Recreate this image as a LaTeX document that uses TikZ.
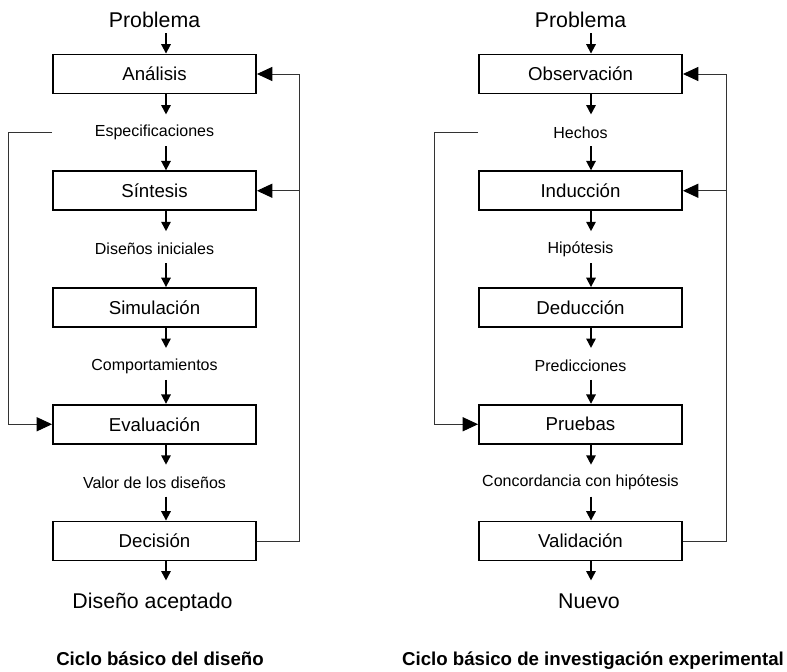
\documentclass[tikz,border=0pt]{standalone}
\usepackage{fontspec}
\setmainfont{Liberation Sans}
\usetikzlibrary{arrows.meta,calc}

\begin{document}
\begin{tikzpicture}[x=0.75pt,y=-0.75pt,
  stage/.style={draw, line width=1.4pt, minimum width=152.25pt, minimum height=29.25pt,
    inner sep=0pt, font=\fontsize{14}{16}\selectfont},
  lbl/.style={inner sep=0pt, font=\fontsize{12}{14}\selectfont},
  big/.style={inner sep=0pt, font=\fontsize{16}{19}\selectfont},
  caption/.style={inner sep=0pt, font=\fontsize{14}{17}\selectfont\bfseries},
  arr/.style={line width=1.3pt, -{Triangle[length=7pt,width=7pt]}},
  fb/.style={line width=0.75pt, black!80},
  fbarr/.style={fb, -{Triangle[length=11.5pt,width=10.5pt,color=black]}}]

\useasboundingbox (0,0) rectangle (787,671);

% ---------- design cycle ----------
\coordinate (axL) at (166,0);
\coordinate (fbLL) at (8,0);
\coordinate (fbLR) at (299,0);

\node[big, anchor=base] (pL) at (154.5,27) {Problema};
\node[stage] (a1) at (154.5,74) {Análisis};
\node[lbl] (s1) at (154.5,132.4) {Especificaciones};
\node[stage] (a2) at (154.5,190.75) {Síntesis};
\node[lbl] (s2) at (154.5,249.1) {Diseños iniciales};
\node[stage] (a3) at (154.5,307.5) {Simulación};
\node[lbl] (s3) at (154.5,365.9) {Comportamientos};
\node[stage] (a4) at (154.5,424.25) {Evaluación};
\node[lbl] (s4) at (154.5,482.6) {Valor de los diseños};
\node[stage] (a5) at (154.5,541) {Decisión};
\begin{scope}
  \clip (0,0) rectangle (787,610);
  \node[big, anchor=base] (oL) at (152.5,608.5) {Diseño aceptado};
\end{scope}
\node[caption, anchor=base] (tL) at (160,665) {Ciclo básico del diseño};

\draw[arr] ($(pL.base -| axL)+(0,6)$) -- (a1.north -| axL);
\foreach \b/\l/\n in {a1/s1/a2, a2/s2/a3, a3/s3/a4, a4/s4/a5} {
  \draw[arr] (\b.south -| axL) -- ++(0,20);
  \draw[arr] ($(\n.north -| axL)+(0,-24)$) -- (\n.north -| axL);
}
\draw[arr] (a5.south -| axL) -- ++(0,19);

\draw[fbarr] (s1 -| a1.west) -- (s1 -| fbLL) |- (a4.west);
\draw[fbarr] (a5.east) -- (a5.east -| fbLR) |- (a1.east);
\draw[fbarr] (a2.east -| fbLR) -- (a2.east);

% ---------- experimental research cycle ----------
\coordinate (axR) at (591,0);
\coordinate (fbRL) at (434,0);
\coordinate (fbRR) at (726,0);

\node[big, anchor=base] (pR) at (580.5,27) {Problema};
\node[stage] (b1) at (580.5,74) {Observación};
\node[lbl] (h1) at (580.5,132.4) {Hechos};
\node[stage] (b2) at (580.5,190.75) {Inducción};
\node[lbl] (h2) at (580.5,249.1) {Hipótesis};
\node[stage] (b3) at (580.5,307.5) {Deducción};
\node[lbl] (h3) at (580.5,365.9) {Predicciones};
\node[stage] (b4) at (580.5,424.25) {Pruebas};
\node[lbl] (h4) at (580.5,482.6) {Concordancia con hipótesis};
\node[stage] (b5) at (580.5,541) {Validación};
\begin{scope}
  \clip (0,0) rectangle (787,610);
  \node[big, anchor=base] (oR) at (589,608.5) {Nuevo};
\end{scope}
\node[caption, anchor=base] (tR) at (593,665) {Ciclo básico de investigación experimental};

\draw[arr] ($(pR.base -| axR)+(0,6)$) -- (b1.north -| axR);
\foreach \b/\l/\n in {b1/h1/b2, b2/h2/b3, b3/h3/b4, b4/h4/b5} {
  \draw[arr] (\b.south -| axR) -- ++(0,20);
  \draw[arr] ($(\n.north -| axR)+(0,-24)$) -- (\n.north -| axR);
}
\draw[arr] (b5.south -| axR) -- ++(0,19);

\draw[fbarr] (h1 -| b1.west) -- (h1 -| fbRL) |- (b4.west);
\draw[fbarr] (b5.east) -- (b5.east -| fbRR) |- (b1.east);
\draw[fbarr] (b2.east -| fbRR) -- (b2.east);

\end{tikzpicture}
\end{document}
